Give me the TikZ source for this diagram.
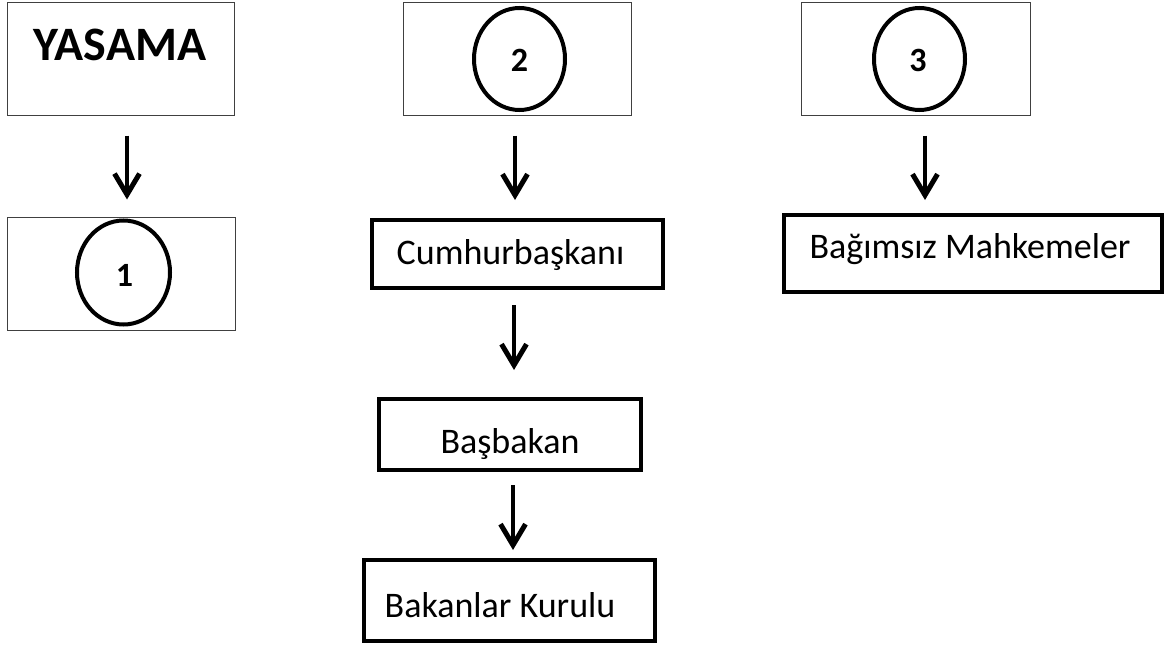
\documentclass[tikz,border=0pt]{standalone}
\usepackage{fontspec}
\setmainfont{Carlito}
\usetikzlibrary{shapes.geometric,arrows.meta}
\begin{document}
\begin{tikzpicture}[x=1pt,y=-1pt,
  thinbox/.style={draw=black!75,line width=1pt,rectangle,inner sep=0pt},
  thickbox/.style={draw=black,line width=4pt,rectangle,inner sep=0pt},
  circ/.style={draw=black,line width=4pt,ellipse,inner sep=0pt},
  lbl/.style={anchor=base,inner sep=0pt,font=\fontsize{36}{40}\selectfont},
  num/.style={anchor=base,inner sep=0pt,font=\fontsize{34}{38}\selectfont\bfseries},
  flow/.style={line width=4.5pt,-{Straight Barb[length=21pt,width=25pt,line width=5pt]}}
]
\useasboundingbox (0,0) rectangle (1169,650);
% column 1
\node[thinbox,minimum width=227pt,minimum height=113pt] (yasama) at (120.5,59.5) {};
\node[anchor=base,inner sep=0pt,font=\fontsize{48}{52}\selectfont\bfseries] (yasamaT) at (120,61) {YASAMA};
\node[thinbox,minimum width=228pt,minimum height=113pt] (box1) at (121,273.5) {};
\node[circ,minimum width=93pt,minimum height=104pt] (c1) at (123.5,272.5) {};
\node[num] (n1) at (124.5,286) {1};
% column 2
\node[thinbox,minimum width=228pt,minimum height=113pt] (box2) at (517,59.5) {};
\node[circ,minimum width=91pt,minimum height=102pt] (c2) at (519.5,59) {};
\node[num] (n2) at (519.5,72) {2};
\node[thickbox,minimum width=291pt,minimum height=68pt] (cb) at (517,254) {};
\node[lbl] (cbT) at (510.5,264) {Cumhurbaşkanı};
\node[thickbox,minimum width=262pt,minimum height=71pt] (bb) at (510,434.5) {};
\node[lbl] (bbT) at (510,453) {Başbakan};
\node[thickbox,minimum width=291pt,minimum height=81pt] (bk) at (509.5,600.5) {};
\node[lbl] (bkT) at (500,617) {Bakanlar Kurulu};
% column 3
\node[thinbox,minimum width=229pt,minimum height=113pt] (box3) at (915.5,59.5) {};
\node[circ,minimum width=91pt,minimum height=102pt] (c3) at (919.5,59) {};
\node[num] (n3) at (918,72) {3};
\node[thickbox,minimum width=378pt,minimum height=77pt] (bm) at (972.5,253) {};
\node[lbl] (bmT) at (970,258) {Bağımsız Mahkemeler};
% arrows
\draw[flow,shorten <=19pt,shorten >=17pt] ([xshift=6.5pt]yasama.south) -- ([xshift=6pt]box1.north);
\draw[flow,shorten <=19pt,shorten >=18pt] ([xshift=-2pt]box2.south) -- ([xshift=-2pt]cb.north);
\draw[flow,shorten <=15pt,shorten >=27pt] ([xshift=-3pt]cb.south) -- ([xshift=4pt]bb.north);
\draw[flow,shorten <=13pt,shorten >=8pt] ([xshift=3pt]bb.south) -- ([xshift=3.5pt]bk.north);
\draw[flow,shorten <=19pt,shorten >=12.5pt] ([xshift=9.5pt]box3.south) -- ([xshift=-47.5pt]bm.north);
\end{tikzpicture}
\end{document}
